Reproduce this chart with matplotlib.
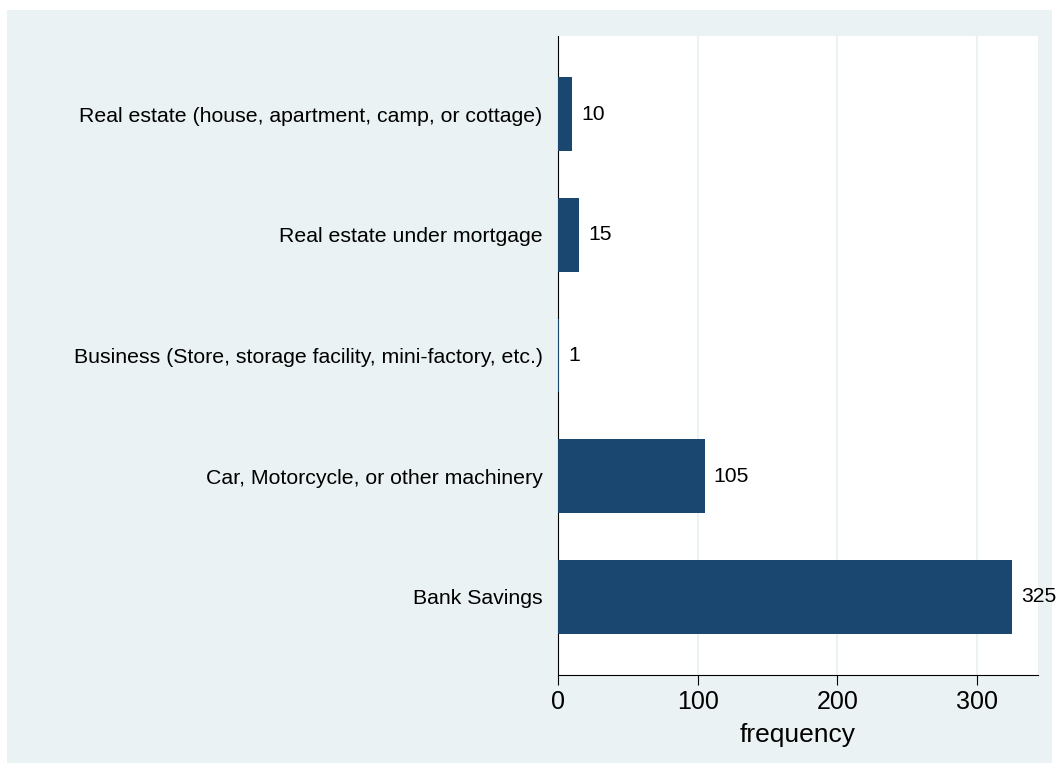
import matplotlib
matplotlib.use("Agg")
import matplotlib.pyplot as plt
from matplotlib.patches import Rectangle

categories = [
    "Bank Savings",
    "Car, Motorcycle, or other machinery",
    "Business (Store, storage facility, mini-factory, etc.)",
    "Real estate under mortgage",
    "Real estate (house, apartment, camp, or cottage)",
]
values = [325, 105, 1, 15, 10]
xticks = [0, 100, 200, 300]

plt.rcParams['font.family'] = ['Liberation Sans', 'DejaVu Sans']

bg = "#eaf2f3"
bar_color = "#1a476f"

fig = plt.figure(figsize=(10.59, 7.73), dpi=100, facecolor="white")
fig.patches.append(Rectangle((7/1059, 1 - 763/773), (1052-7)/1059, (763-10)/773,
                             transform=fig.transFigure, facecolor=bg, edgecolor="none", zorder=-10))

ax = fig.add_axes([558/1059, 1 - 675/773, (1038-558)/1059, (675-36)/773])
ax.set_facecolor("white")

pos = list(range(len(categories)))
ax.barh(pos, values, height=0.61, color=bar_color, zorder=3)
for p, v in zip(pos, values):
    ax.annotate(str(v), xy=(v, p), xytext=(6.5, 0), textcoords="offset points",
                va="center", ha="left", fontsize=15.2, color="black")

ax.set_yticks(pos)
ax.set_yticklabels(categories, fontsize=15.3)
ax.tick_params(axis="y", length=0, pad=11)
ax.set_xticks(xticks)
ax.set_xticklabels([str(t) for t in xticks], fontsize=18)
ax.tick_params(axis="x", length=7, width=0.8, pad=4)
ax.set_xlim(0, 343.6)
ax.set_ylim(-0.646, 4.646)
ax.set_xlabel("frequency", fontsize=19, labelpad=6)

ax.grid(axis="x", color=bg, linewidth=1.5, zorder=0)
ax.set_axisbelow(True)
for s in ["top", "right"]:
    ax.spines[s].set_visible(False)
for s in ["left", "bottom"]:
    ax.spines[s].set_linewidth(0.8)
    ax.spines[s].set_color("black")

fig.savefig("out.png", dpi=100)
